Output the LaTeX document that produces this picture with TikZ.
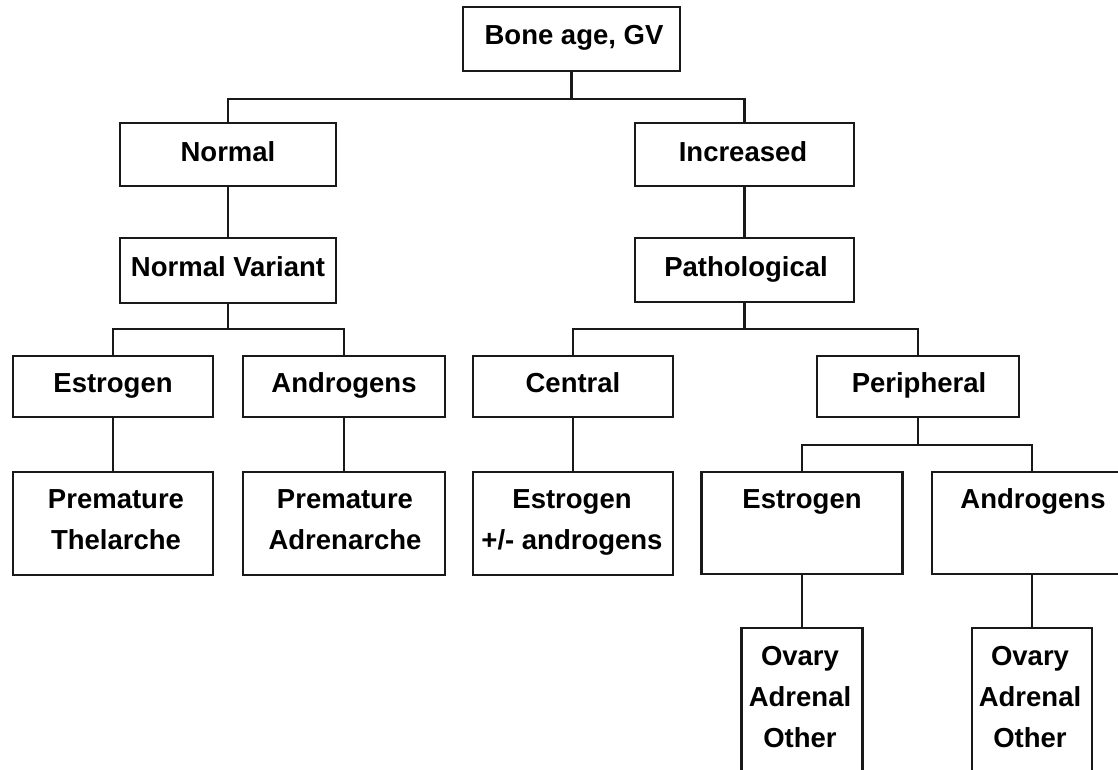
\documentclass[tikz,border=0pt]{standalone}
\usepackage{fontspec}
\setmainfont{Liberation Sans}
\begin{document}
\begin{tikzpicture}[x=1pt,y=-1pt,
  box/.style={draw=black!90, line width=2.2pt, inner sep=0pt},
  lbl/.style={font=\fontsize{27.5}{41}\selectfont\bfseries, align=center, inner sep=0pt, anchor=base},
  link/.style={draw=black!90, line width=2.2pt}]
\useasboundingbox (0,0) rectangle (1118,770);
\fill[white] (0,0) rectangle (1118,770);

% boxes
\node[box, minimum width=217pt, minimum height=64pt] (bone) at (571.5,39) {};
\node[box, minimum width=216pt, minimum height=63pt] (normal) at (228,154.5) {};
\node[box, minimum width=219pt, minimum height=63pt] (inc) at (744.5,154.5) {};
\node[box, minimum width=216pt, minimum height=65pt] (nvar) at (228,270.5) {};
\node[box, minimum width=219pt, minimum height=64pt] (path) at (744.5,270) {};
\node[box, minimum width=200pt, minimum height=61pt] (est1) at (113,386.5) {};
\node[box, minimum width=202pt, minimum height=61pt] (and1) at (344,386.5) {};
\node[box, minimum width=200pt, minimum height=61pt] (cen) at (573,386.5) {};
\node[box, minimum width=202pt, minimum height=61pt] (per) at (918,386.5) {};
\node[box, minimum width=200pt, minimum height=103pt] (pt) at (113,523.5) {};
\node[box, minimum width=202pt, minimum height=103pt] (pa) at (344,523.5) {};
\node[box, minimum width=200pt, minimum height=103pt] (ea) at (573,523.5) {};
\node[box, minimum width=201pt, minimum height=102pt] (est2) at (802,523) {};
\node[box, minimum width=200pt, minimum height=102pt] (and2) at (1032,523) {};
\node[box, minimum width=121pt, minimum height=172pt] (ov1) at (802,714) {};
\node[box, minimum width=120pt, minimum height=172pt] (ov2) at (1032,714) {};

% labels (base = baseline of the last line)
\node[lbl] (t-bone) at (574,45) {Bone age, GV};
\node[lbl] (t-normal) at (228,162) {Normal};
\node[lbl] (t-inc) at (743,162) {Increased};
\node[lbl] (t-nvar) at (228,276) {Normal Variant};
\node[lbl] (t-path) at (746,276) {Pathological};
\node[lbl] (t-est1) at (113,392) {Estrogen};
\node[lbl] (t-and1) at (344,392) {Androgens};
\node[lbl] (t-cen) at (573,392) {Central};
\node[lbl] (t-per) at (919,392) {Peripheral};
\node[lbl] (t-pt) at (116,549) {Premature\\Thelarche};
\node[lbl] (t-pa) at (345,549) {Premature\\Adrenarche};
\node[lbl] (t-ea) at (572,549) {Estrogen\\+/- androgens};
\node[lbl] (t-est2) at (802,508) {Estrogen};
\node[lbl] (t-and2) at (1033,508) {Androgens};
\node[lbl] (t-ov1) at (800,747) {Ovary\\Adrenal\\Other};
\node[lbl] (t-ov2) at (1030,747) {Ovary\\Adrenal\\Other};

% connectors
\draw[link] (bone.south) -- ++(0,27) -| (normal.north);
\draw[link] (bone.south) -- ++(0,27) -| (inc.north);
\draw[link] (normal.south) -- (nvar.north);
\draw[link] (inc.south) -- (path.north);
\draw[link] (nvar.south) -- ++(0,25) -| (est1.north);
\draw[link] (nvar.south) -- ++(0,25) -| (and1.north);
\draw[link] (path.south) -- ++(0,26) -| (cen.north);
\draw[link] (path.south) -- ++(0,26) -| (per.north);
\draw[link] (est1.south) -- (pt.north);
\draw[link] (and1.south) -- (pa.north);
\draw[link] (cen.south) -- (ea.north);
\draw[link] (per.south) -- ++(0,27) -| (est2.north);
\draw[link] (per.south) -- ++(0,27) -| (and2.north);
\draw[link] (est2.south) -- (ov1.north);
\draw[link] (and2.south) -- (ov2.north);
\end{tikzpicture}
\end{document}
